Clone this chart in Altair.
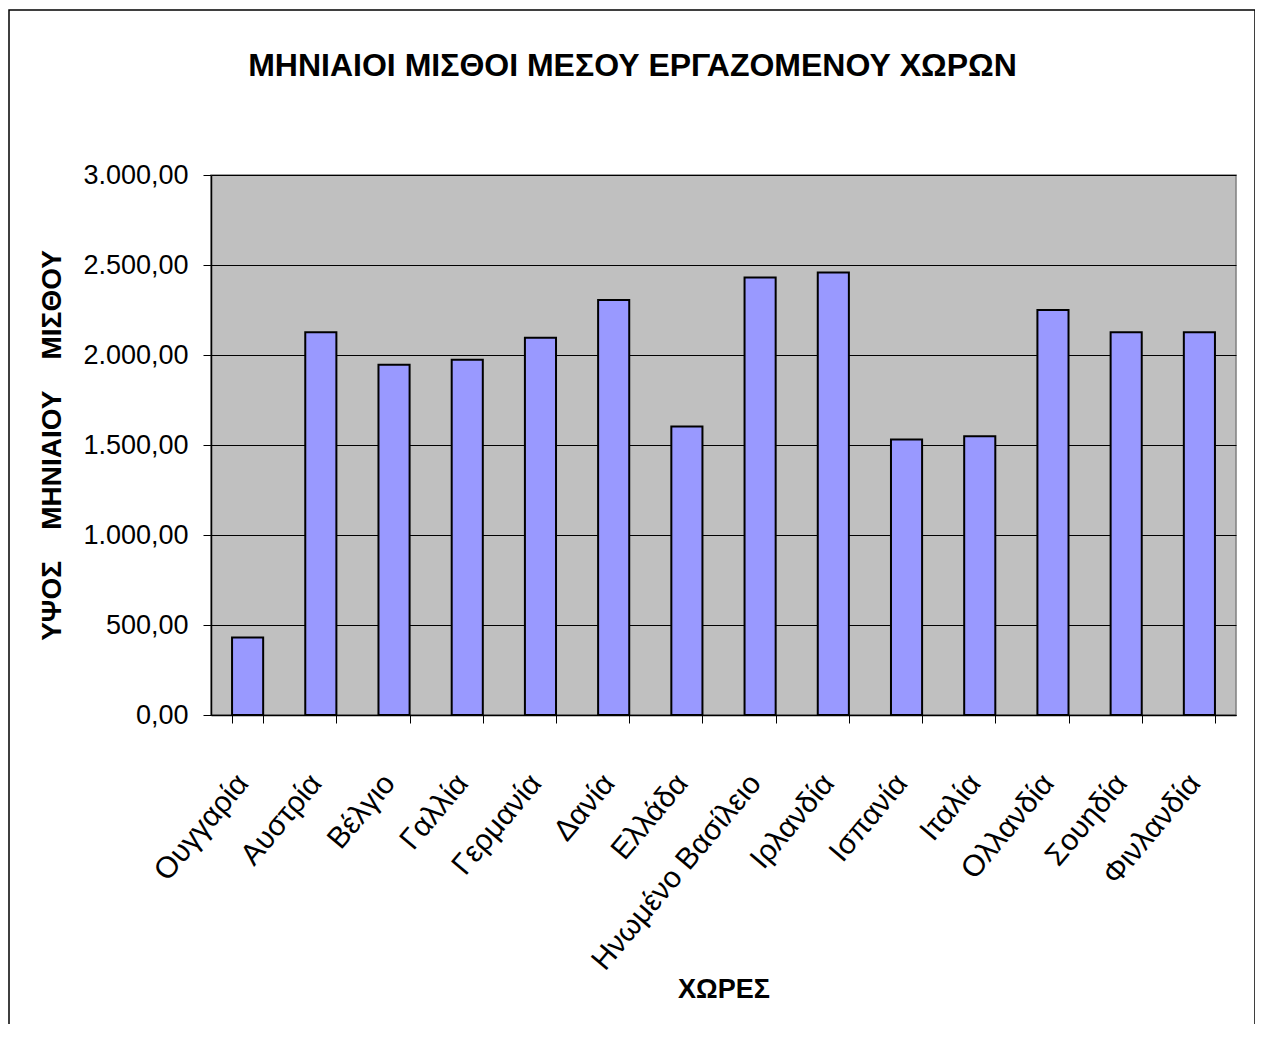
import altair as alt
import pandas as pd

countries = ["Ουγγαρία", "Αυστρία", "Βέλγιο", "Γαλλία", "Γερμανία", "Δανία", "Ελλάδα",
             "Ηνωμένο Βασίλειο", "Ιρλανδία", "Ισπανία", "Ιταλία", "Ολλανδία", "Σουηδία", "Φινλανδία"]
salaries = [430, 2126, 1946, 1974, 2096, 2305, 1603, 2431, 2459, 1531, 1548, 2250, 2126, 2126]
y_ticks = [0, 500, 1000, 1500, 2000, 2500, 3000]

title_text = "ΜΗΝΙΑΙΟΙ ΜΙΣΘΟΙ ΜΕΣΟΥ ΕΡΓΑΖΟΜΕΝΟΥ ΧΩΡΩΝ"
x_title = "ΧΩΡΕΣ"
y_title = "ΥΨΟΣ\u00a0\u00a0\u00a0\u00a0ΜΗΝΙΑΙΟΥ\u00a0\u00a0\u00a0\u00a0ΜΙΣΘΟΥ"

df = pd.DataFrame({"country": countries, "salary": salaries})

FONT = "Liberation Sans"

label_expr = ("replace(replace(replace(format(datum.value, ',.2f'), ',', '_'), '.', ','), '_', '.')")

bars = alt.Chart(df).mark_bar(fill="#9999FF", stroke="black", strokeWidth=2).encode(
    x=alt.X(
        "country:N", sort=countries,
        scale=alt.Scale(paddingInner=0.575, paddingOuter=0.2875),
        axis=alt.Axis(
            title=x_title, tickBand="extent", labelAngle=-50, labelAlign="right",
            labelBaseline="middle", labelFontSize=30, labelFont=FONT, labelColor="black",
            labelPadding=55, labelOffset=-5, labelLimit=0, tickSize=8, tickColor="black",
            domainColor="black", domainWidth=1.5, titleFont=FONT, titleFontSize=27,
            titleFontWeight="bold", titleColor="black", titleY=282,
            titleBaseline="alphabetic", grid=False,
        ),
    ),
    y=alt.Y(
        "salary:Q",
        scale=alt.Scale(domain=[0, 3000], nice=False),
        axis=alt.Axis(
            values=y_ticks, title=y_title, labelExpr=label_expr, labelFont=FONT,
            labelFontSize=27, labelColor="black", labelPadding=15, tickSize=8,
            tickColor="black", domainColor="black", domainWidth=1.5,
            gridColor="black", gridWidth=1, grid=True,
            titleFont=FONT, titleFontSize=28, titleFontWeight="bold", titleColor="black",
            titleX=-151, titleY=270, titleBaseline="alphabetic", titleAngle=270,
        ),
    ),
)

frame = alt.Chart(alt.Data(values=[{"f": 1}])).mark_rect(
    fill="white", fillOpacity=0, stroke="black", strokeWidth=1.5, clip=False
).encode(
    x=alt.value(-202), x2=alt.value(1044), y=alt.value(-165), y2=alt.value(880)
)

chart = alt.layer(frame, bars).properties(
    width=1025, height=540,
    title=alt.TitleParams(
        title_text, font=FONT, fontSize=32, fontWeight="bold", anchor="middle",
        frame="group", dx=-91, dy=74, offset=0, color="black",
    ),
    autosize=alt.AutoSizeParams(type="none"),
    padding={"left": 203, "top": 167, "right": 19, "bottom": 309},
).configure_view(fill="#C0C0C0", stroke="#808080", strokeWidth=1.5)

chart.save("out.html", embed_options={"renderer": "svg", "actions": False})
